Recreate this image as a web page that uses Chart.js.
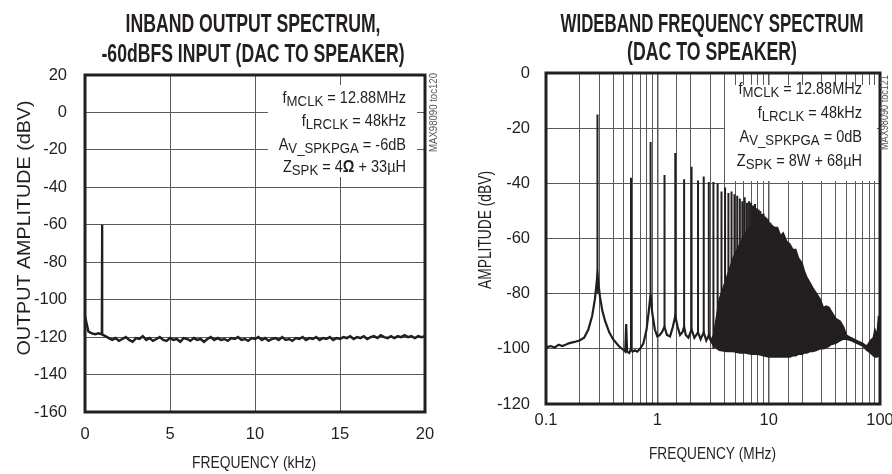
<!DOCTYPE html>
<html><head><meta charset="utf-8">
<script src="https://cdn.jsdelivr.net/npm/chart.js@4.4.1/dist/chart.umd.min.js"></script>
<style>
html,body{margin:0;padding:0;background:#fff;}
#wrap{position:relative;width:892px;height:474px;overflow:hidden;}
canvas{position:absolute;top:0;}
</style></head><body>
<div id="wrap">
<canvas id="left" width="446" height="474" style="left:0"></canvas>
<canvas id="right" width="446" height="474" style="left:446px"></canvas>
</div>
<script>
const INK = '#231f20';
const GRID = '#5a5a5a';
const FONT = "'Liberation Sans', Arial, sans-serif";

// ---------- Left chart: inband output spectrum ----------
const inbandStepKHz = 0.2;
const inbandLevelDbv = [
  -109, -117, -118, -118.5, -118, -118.5, -119.5, -120.5, -121.5, -120.5,
  -122, -121, -120, -121.5, -122.5, -120.5, -121, -119.5, -121.5, -120.5,
  -122, -121, -120, -121.5, -122, -120.5, -121.5, -121, -122.5, -120.5,
  -121, -122, -120.5, -121.5, -121, -122.5, -121, -120, -121.5, -120.5,
  -121.5, -121, -122, -120.5, -121, -120, -121.5, -121, -122, -120.5,
  -121, -120, -121.5, -120.5, -122, -121, -120.5, -121.5, -120, -121.5,
  -121, -122, -120.5, -121, -120, -121.5, -120.5, -121, -120, -121.5,
  -120.5, -121, -120, -121.5, -120.5, -121, -120, -120.5, -119.5, -121,
  -120, -120.5, -119.5, -121, -120, -119.5, -120.5, -119, -120, -120.5,
  -119.5, -120.5, -119.5, -120, -119, -120, -119.5, -120.5, -119.5, -120,
  -119.5
];
const toneFreqKHz = [0.98, 1.0, 1.02];
const toneLevelDbv = [-118.5, -60, -119];
const inbandXTicks = [0, 5, 10, 15, 20];

// ---------- Right chart: wideband spectrum ----------
const floorFreqMHz = [0.10,0.11,0.12,0.13,0.14,0.15,0.16,0.18,0.20,0.22,0.24,0.26,0.275,0.285,0.29,0.295,0.305,0.32,0.34,0.37,0.40,0.45,0.50,0.515,0.525,0.535,0.56,0.58,0.60,0.63,0.66,0.70,0.75,0.80,0.84,0.87,0.90,0.95,1.00,1.05,1.10,1.16,1.22,1.30,1.38,1.45,1.52,1.60,1.68,1.74,1.80,1.90,2.03,2.15,2.32,2.45,2.61,2.75,2.90,3.0];
const floorDb = [-99.5,-99,-99.5,-98.5,-99,-98.5,-98,-97.5,-97,-96,-93,-88,-82,-76,-73,-76,-81,-86,-90,-94,-96.5,-99,-100.5,-101,-91,-101,-101.5,-100,-101,-100.5,-101,-100,-98,-93,-86,-80,-87,-93,-95.5,-95,-94,-92,-95,-95.5,-92,-88,-92,-95,-94,-92,-95,-96,-93,-96,-94,-96.5,-94,-97,-95,-97];

const harmonicFreqMHz = [0.29,0.58,0.87,1.16,1.45,1.74,2.03,2.32,2.61,2.90,3.19,3.48,3.77,4.06,4.35,4.64,4.93,5.22,5.51,5.80,6.09,6.38,6.67,6.96,7.25,7.54,7.83,8.12,8.41,8.70,9.0,9.28,9.57,9.86,10.15,10.44,10.73,11.02];
const harmonicPeakDb = [-15,-38,-25,-37,-29,-38.5,-34,-39,-37.5,-39.5,-39.5,-40,-43,-41.5,-43.5,-43,-44,-44.5,-45.5,-46.5,-45,-47,-46.5,-47,-48,-47.5,-49,-49.5,-50,-51,-51,-52,-52.5,-53,-54,-54.5,-55,-55.5];
const harmonicBaseDb = [-80,-100,-80,-92,-88,-92,-93,-94,-94,-95,-100,-100,-100,-100,-100,-100,-100,-100,-100,-100,-100,-100,-100,-100,-100,-100,-100,-100,-100,-100,-100,-100,-100,-100,-100,-100,-100,-100];

const bandFreqMHz = [3.0,3.2,3.6,4.2,4.8,5.5,6.2,7,8,9,10,11,12,12.8,13.5,14.5,15.5,16.5,17.5,18.5,20,21,22,23.5,25,27,29,31,33,35,36,40,44,47,50,55,62,70,76,82,87,90,94,97,100];
const bandTopDb = [-97,-95,-82,-74,-67,-62,-58,-55,-54,-54,-55,-56,-56,-59,-58,-61,-62,-64,-64,-67,-69,-72,-74,-76,-78,-80,-82,-85,-84.5,-85,-86,-89,-90,-92,-95,-96,-97,-98,-99,-97,-96,-93,-95,-88,-96];
const bandBottomDb = [-97,-99,-100.5,-101,-101,-101.5,-101.5,-102,-102,-102.5,-103,-103,-103,-103,-103,-103,-103,-102.5,-102.5,-102,-102,-101.5,-101.5,-101,-101,-100.5,-100,-100,-99.5,-99,-98.5,-98,-97,-96.5,-96.5,-97,-98,-99,-100.5,-101.5,-102.5,-103,-103,-102.5,-101];
const widebandXLabels = [0.1, 1, 10, 100];

// ---------- helpers ----------
function fitText(ctx, text, x, y, length, px, opts){
  opts = opts || {};
  ctx.save();
  ctx.font = (opts.bold ? 'bold ' : '') + px + 'px ' + FONT;
  const w = ctx.measureText(text).width;
  ctx.translate(x, y);
  if (opts.rotate) ctx.rotate(opts.rotate);
  ctx.scale(length / w, opts.scaleY || 1);
  ctx.textAlign = opts.align || 'center';
  ctx.textBaseline = opts.baseline || 'alphabetic';
  ctx.fillStyle = opts.color || INK;
  ctx.fillText(text, 0, 0);
  ctx.restore();
}

const LEGEND_PX = 16.5, LEGEND_SUB_PX = 15, LEGEND_SX = 0.88;
function segFont(s){ return (s.bold ? 'bold ' : '') + (s.sub ? LEGEND_SUB_PX : LEGEND_PX) + 'px ' + FONT; }

function decor(cfg){
  return {
    id: 'decor_' + cfg.name,
    beforeDatasetsDraw(chart){
      const ctx = chart.ctx;
      ctx.save();
      ctx.fillStyle = '#fff';
      ctx.fillRect(cfg.box[0], cfg.box[1], cfg.box[2], cfg.box[3]);
      ctx.fillStyle = INK;
      ctx.textAlign = 'left';
      ctx.textBaseline = 'alphabetic';
      cfg.lines.forEach((segs, i) => {
        const ws = segs.map(s => { ctx.font = segFont(s); return ctx.measureText(s.t).width; });
        const total = ws.reduce((a,b)=>a+b,0);
        ctx.save();
        ctx.translate(cfg.textRight, cfg.baselines[i]);
        ctx.scale(LEGEND_SX, 1);
        let x = -total;
        segs.forEach((s, j) => {
          ctx.font = segFont(s);
          ctx.fillText(s.t, x, s.sub ? 3 : 0);
          x += ws[j];
        });
        ctx.restore();
      });
      ctx.restore();
    },
    afterDatasetsDraw(chart){
      const {ctx, chartArea:a} = chart;
      ctx.save();
      ctx.strokeStyle = INK;
      ctx.lineWidth = 3;
      ctx.strokeRect(a.left, a.top, a.right - a.left, a.bottom - a.top);
      ctx.restore();
    },
    afterDraw(chart){
      const ctx = chart.ctx;
      cfg.title.forEach((t, i) => fitText(ctx, t[0], cfg.titleX, t[2], t[1], 21, {bold: true, scaleY: 1.27}));
      fitText(ctx, cfg.xTitle[0], cfg.xTitle[2], cfg.xTitle[3], cfg.xTitle[1], 17, {baseline: 'middle'});
      fitText(ctx, cfg.yTitle[0], cfg.yTitle[2], cfg.yTitle[3], cfg.yTitle[1], cfg.yTitle[4], {baseline: 'middle', rotate: -Math.PI/2});
      fitText(ctx, cfg.figId[0], cfg.figId[2], cfg.figId[3], cfg.figId[1], 11, {baseline: 'middle', rotate: -Math.PI/2, align: 'left', color: '#555'});
    }
  };
}

const tickFont = {family: FONT, size: 16.5};

// ---------- left chart ----------
new Chart(document.getElementById('left'), {
  type: 'line',
  data: { datasets: [
    { data: toneFreqKHz.map((x,i)=>({x, y: toneLevelDbv[i]})), borderColor: INK, borderWidth: 2, pointRadius: 0, tension: 0 },
    { data: inbandLevelDbv.map((y,i)=>({x: i*inbandStepKHz, y})), borderColor: INK, borderWidth: 2.5, pointRadius: 0, tension: 0 }
  ]},
  options: {
    responsive: false, animation: false, events: [],
    layout: { padding: { left: 15, right: 21, top: 75, bottom: 0 } },
    plugins: { legend: {display:false}, tooltip: {enabled:false} },
    scales: {
      x: { type: 'linear', min: 0, max: 20,
        afterBuildTicks: s => { s.ticks = inbandXTicks.map(v => ({value: v})); },
        ticks: { font: tickFont, color: INK, padding: 13, maxRotation: 0, autoSkip: false },
        grid: { color: GRID, lineWidth: 1, drawTicks: false },
        border: { display: false },
        afterFit: s => { s.height = 62; s.paddingLeft = 0; s.paddingRight = 0; }
      },
      y: { type: 'linear', min: -160, max: 20,
        ticks: { stepSize: 20, font: tickFont, color: INK, padding: 18 },
        grid: { color: GRID, lineWidth: 1, drawTicks: false },
        border: { display: false },
        afterFit: s => { s.width = 70; s.paddingTop = 0; s.paddingBottom = 0; }
      }
    }
  },
  plugins: [decor({
    name: 'l',
    box: [268, 85, 149, 92],
    textRight: 406,
    baselines: [103, 126, 149.5, 172],
    lines: [
      [{t:'f'},{t:'MCLK',sub:true},{t:' = 12.88MHz'}],
      [{t:'f'},{t:'LRCLK',sub:true},{t:' = 48kHz'}],
      [{t:'A'},{t:'V_SPKPGA',sub:true},{t:' = -6dB'}],
      [{t:'Z'},{t:'SPK',sub:true},{t:' = 4'},{t:'\u03A9',bold:true},{t:' + 33\u00B5H'}]
    ],
    title: [['INBAND OUTPUT SPECTRUM,', 255, 32], ['-60dBFS INPUT (DAC TO SPEAKER)', 303, 62]],
    titleX: 253,
    xTitle: ['FREQUENCY (kHz)', 124, 254, 463],
    yTitle: ['OUTPUT AMPLITUDE (dBV)', 255, 25, 228, 18],
    figId: ['MAX98090 toc120', 79, 434, 152]
  })]
});

// ---------- right chart ----------
const spikeData = [];
harmonicFreqMHz.forEach((f, i) => {
  spikeData.push({x: f, y: harmonicBaseDb[i]}, {x: f, y: harmonicPeakDb[i]}, {x: f, y: null});
});

new Chart(document.getElementById('right'), {
  type: 'line',
  data: { datasets: [
    { data: floorFreqMHz.map((x,i)=>({x, y: floorDb[i]})), borderColor: INK, borderWidth: 2.2, pointRadius: 0, tension: 0 },
    { data: spikeData, borderColor: INK, borderWidth: 2, pointRadius: 0, spanGaps: false, tension: 0 },
    { data: bandFreqMHz.map((x,i)=>({x, y: bandBottomDb[i]})), borderColor: INK, borderWidth: 1.5, pointRadius: 0, tension: 0 },
    { data: bandFreqMHz.map((x,i)=>({x, y: bandTopDb[i]})), borderColor: INK, borderWidth: 1.5, pointRadius: 0, tension: 0, fill: '-1', backgroundColor: INK }
  ]},
  options: {
    responsive: false, animation: false, events: [],
    layout: { padding: { left: 22, right: 12, top: 73, bottom: 0 } },
    plugins: { legend: {display:false}, tooltip: {enabled:false}, filler: {propagate: false} },
    scales: {
      x: { type: 'logarithmic', min: 0.1, max: 100,
        ticks: { font: tickFont, color: INK, padding: 7, maxRotation: 0, autoSkip: false,
          callback: v => widebandXLabels.find(l => Math.abs(l - v) < 1e-9 * Math.max(1, l)) !== undefined ? String(v) : '' },
        grid: { color: GRID, drawTicks: false,
          lineWidth: c => { const v = c.tick ? c.tick.value : 0; return widebandXLabels.some(l => Math.abs(l - v) < 1e-6) ? 1.5 : 1; } },
        border: { display: false },
        afterFit: s => { s.height = 70; s.paddingLeft = 0; s.paddingRight = 0; }
      },
      y: { type: 'linear', min: -120, max: 0,
        ticks: { stepSize: 20, font: tickFont, color: INK, padding: 16 },
        grid: { color: GRID, lineWidth: 1, drawTicks: false },
        border: { display: false },
        afterFit: s => { s.width = 78; s.paddingTop = 0; s.paddingBottom = 0; }
      }
    }
  },
  plugins: [decor({
    name: 'r',
    box: [279, 85, 152, 96],
    textRight: 416,
    baselines: [94, 118, 142, 166],
    lines: [
      [{t:'f'},{t:'MCLK',sub:true},{t:' = 12.88MHz'}],
      [{t:'f'},{t:'LRCLK',sub:true},{t:' = 48kHz'}],
      [{t:'A'},{t:'V_SPKPGA',sub:true},{t:' = 0dB'}],
      [{t:'Z'},{t:'SPK',sub:true},{t:' = 8W + 68\u00B5H'}]
    ],
    title: [['WIDEBAND FREQUENCY SPECTRUM', 303, 32], ['(DAC TO SPEAKER)', 170, 60]],
    titleX: 266,
    xTitle: ['FREQUENCY (MHz)', 127, 266.5, 454],
    yTitle: ['AMPLITUDE (dBV)', 118, 40, 230, 17.5],
    figId: ['MAX98090 toc121', 75, 439, 150]
  })]
});
</script>
</body></html>
